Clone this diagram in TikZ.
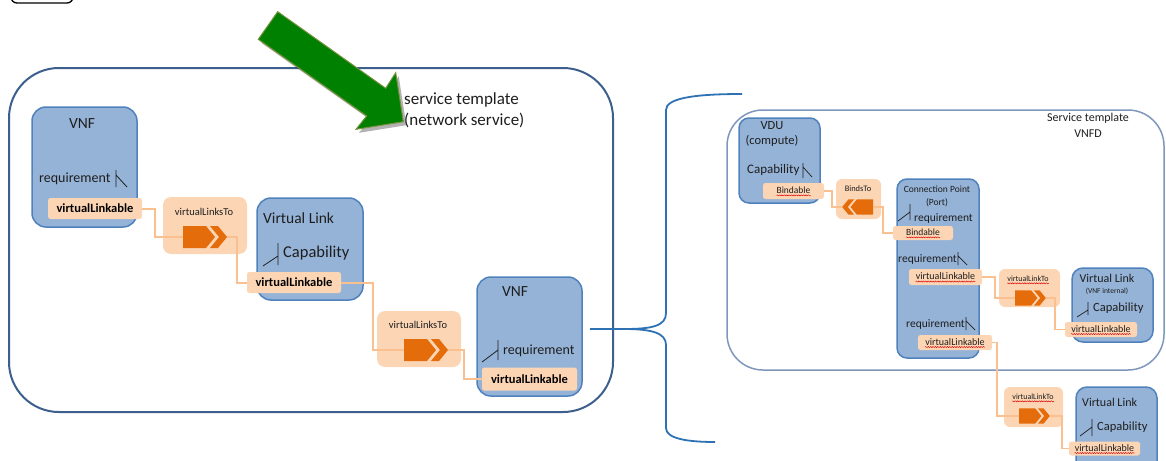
\documentclass[tikz,border=0pt]{standalone}
\usepackage{fontspec}
\setmainfont{Carlito}
\usetikzlibrary{decorations.pathmorphing}

\definecolor{boxfill}{HTML}{95B3D7}
\definecolor{boxedge}{HTML}{4F81BD}
\definecolor{peach}{HTML}{FCD5B5}
\definecolor{wirec}{HTML}{FAC090}
\definecolor{iconc}{HTML}{E46C0A}
\definecolor{frameLc}{HTML}{3C5F8E}
\definecolor{frameRc}{HTML}{7F97BD}
\definecolor{bracec}{HTML}{2E72B4}
\definecolor{arrowg}{HTML}{008000}
\definecolor{arrowedge}{HTML}{76923C}
\definecolor{ink}{HTML}{1E1E1E}

\newcommand{\fz}[2]{\fontsize{#1}{#2}\selectfont}

\tikzset{
  bluebox/.style={draw=boxedge, fill=boxfill, line width=1.5pt, rounded corners=#1, inner sep=0},
  bluebox/.default=14pt,
  linkbox/.style={fill=peach, rounded corners=#1, inner sep=0},
  linkbox/.default=8pt,
  lbl/.style={fill=peach, rounded corners=2.5pt, inner sep=0},
  txt/.style={inner sep=0, text=ink},
  wire/.style={draw=wirec, line width=2pt},
  sym/.style={draw=ink, line width=0.8pt},
  bracepen/.style={draw=bracec, line width=1.8pt},
  spell/.style={draw=red!85!black, line width=0.45pt, decorate,
                decoration={snake, amplitude=0.55pt, segment length=2.4pt}},
  fwdicon/.pic={
    \fill[iconc] (0,-11) -- (23,-11) -- (32,0) -- (23,11) -- (0,11) -- cycle;
    \fill[iconc] (27,-11) -- (35,-11) -- (44,0) -- (35,11) -- (27,11) -- (36,0) -- cycle;
    \coordinate (-a) at (0,0);
    \coordinate (-b) at (44,0);
  }
}

\begin{document}
\begin{tikzpicture}[x=1pt,y=-1pt]
\useasboundingbox (0,0) rectangle (1166,460);
\clip (0,0) rectangle (1166,460);

% small tab in the top-left corner
\node[draw=black, line width=1.3pt, rounded corners=6pt, minimum width=62, minimum height=16, inner sep=0] (tab) at (42,-5) {};

% ---------------- network service template ----------------
\node[draw=frameLc, line width=2pt, rounded corners=50pt, minimum width=604, minimum height=344, inner sep=0] (nsframe) at (311,240) {};

% green pointer arrow with its shadow
\fill[black, opacity=0.3] (280.7,15.2) -- (388.7,91.8) -- (398.7,76.2) -- (406.3,125.2) -- (359,132.8) -- (369.7,119.5) -- (261.3,42.8) -- cycle;
\filldraw[fill=arrowg, draw=arrowedge, line width=1pt] (277.7,11.7) -- (385.7,88.3) -- (395.7,72.7) -- (403.3,121.7) -- (356,129.3) -- (366.7,116) -- (258.3,39.3) -- cycle;

\node[txt, anchor=west, align=left, font=\fz{17}{21}] (nstitle) at (404,110) {service template\\(network service)};

% VNF (left)
\node[bluebox, minimum width=105, minimum height=120] (vnfA) at (84.5,167) {};
\node[txt, font=\fz{15.5}{18}] (vnfAt) at (82,124) {VNF};
\node[txt, anchor=west, font=\fz{14}{16}] (reqA) at (39,179) {requirement};
\draw[sym] (116,170) -- (116,187) (116,175) -- (127,187);
\node[lbl, minimum width=94, minimum height=21, font=\bfseries\fz{12.5}{15}] (vl1) at (95,208.5) {virtualLinkable};

% virtual link
\node[bluebox, minimum width=106, minimum height=102] (vlA) at (310,249) {};
\node[txt, anchor=west, font=\fz{15.5}{18}] (vlAt) at (263,218) {Virtual Link};
\draw[sym] (278,243) -- (278,265) (263,266) -- (278,256);
\node[txt, anchor=west, font=\fz{16.5}{19}] (capA) at (283,253) {Capability};
\node[lbl, minimum width=94, minimum height=21, font=\bfseries\fz{12.5}{15}] (vl2) at (294,282.5) {virtualLinkable};

% VNF (right)
\node[bluebox, minimum width=105, minimum height=119] (vnfB) at (529.5,336.5) {};
\node[txt, font=\fz{15.5}{18}] (vnfBt) at (515,292) {VNF};
\draw[sym] (498,340) -- (498,360) (482,362) -- (498,350);
\node[txt, anchor=west, font=\fz{14}{16}] (reqB) at (503,351) {requirement};
\node[lbl, minimum width=95, minimum height=23, font=\bfseries\fz{12.5}{15}] (vl3) at (529.5,379) {virtualLinkable};

% relationship boxes
\node[linkbox, minimum width=84, minimum height=57] (lt1) at (205,225.5) {};
\node[txt, font=\fz{10.5}{12}] (lt1t) at (204,212) {virtualLinksTo};
\node[linkbox, minimum width=84, minimum height=56] (lt2) at (419,339) {};
\node[txt, font=\fz{10.5}{12}] (lt2t) at (418,325) {virtualLinksTo};

\pic (ic1) at (183,237) {fwdicon};
\pic (ic2) at (404,350) {fwdicon};

% wires
\draw[wire] (vl1.east) -- ++(13,0) |- (ic1-a);
\draw[wire] (ic1-b) -- ++(10,0) |- (vl2.west);
\draw[wire] (vl2.east) -- ++(32,0) |- (ic2-a);
\draw[wire] (ic2-b) -- ++(16,0) |- (vl3.west);

% ---------------- brace ----------------
\coordinate (brtail) at (590,329);
\coordinate (brtip) at (624,329);
\draw[bracepen] (brtail) -- (brtip);
\draw[bracepen] (brtip) .. controls (652,329) and (666,326) .. (666,313) -- (666,110) .. controls (666,99) and (690,94) .. (742,94);
\draw[bracepen] (brtip) .. controls (652,329) and (666,333) .. (666,345) -- (666,428) .. controls (666,438) and (685,442) .. (715,442);

% ---------------- VNFD service template ----------------
\node[draw=frameRc, line width=1.5pt, rounded corners=36pt, minimum width=437, minimum height=260, inner sep=0] (vnfdframe) at (945.5,240) {};
\node[txt, align=center, font=\fz{12}{16}] (vnfdtitle) at (1088,125) {Service template\\VNFD};

% VDU
\node[bluebox=10pt, minimum width=81, minimum height=85] (vdu) at (779.5,160.5) {};
\node[txt, align=center, font=\fz{12.5}{15}] (vdut) at (772,133.5) {VDU\\(compute)};
\node[txt, anchor=west, font=\fz{13}{15}] (capV) at (747,170) {Capability};
\draw[sym, line width=0.7pt] (803,163) -- (803,178) (803,167) -- (812,177);
\node[lbl, minimum width=61, minimum height=16] (bnd1) at (793.5,191) {};
\node[txt, font=\fz{9.5}{11}] (bnd1t) at (793.5,190.5) {Bindable};

% connection point
\node[bluebox=10pt, minimum width=82, minimum height=179] (cp) at (938,268.5) {};
\node[txt, align=center, font=\fz{9.5}{13}] (cpt) at (937,196.5) {Connection Point\\(Port)};
\draw[sym, line width=0.7pt] (910,204) -- (910,220) (898,221) -- (910,212);
\node[txt, anchor=west, font=\fz{11.5}{13}] (reqC1) at (914,218) {requirement};
\node[lbl, minimum width=60, minimum height=14] (bnd2) at (923,233) {};
\node[txt, font=\fz{9.5}{11}] (bnd2t) at (923,232.5) {Bindable};
\node[txt, anchor=west, font=\fz{11.5}{13}] (reqC2) at (898,259) {requirement};
\draw[sym, line width=0.7pt] (958,252) -- (958,265) (958,256) -- (967,265);
\node[lbl, minimum width=73, minimum height=16] (vl4) at (945.5,277) {};
\node[txt, font=\fz{10}{12}] (vl4t) at (945.5,276.5) {virtualLinkable};
\node[txt, anchor=west, font=\fz{11.5}{13}] (reqC3) at (906,324) {requirement};
\draw[sym, line width=0.7pt] (966,317) -- (966,330) (966,321) -- (975,330);
\node[lbl, minimum width=74, minimum height=15] (vl5) at (955,342.5) {};
\node[txt, font=\fz{10}{12}] (vl5t) at (955,342) {virtualLinkable};

% virtual link (VNF internal)
\node[bluebox=11pt, minimum width=81, minimum height=74] (vli) at (1112.5,305) {};
\node[txt, font=\fz{12}{14}] (vlit) at (1107,278) {Virtual Link};
\node[txt, font=\fz{7.5}{9}] (vlisub) at (1107,291) {(VNF internal)};
\draw[sym, line width=0.7pt] (1088,302) -- (1088,315) (1077,317) -- (1088,310);
\node[txt, anchor=west, font=\fz{12.5}{15}] (capI) at (1093,308) {Capability};
\node[lbl, minimum width=72, minimum height=15] (vl6) at (1101,329.5) {};
\node[txt, font=\fz{10}{12}] (vl6t) at (1101,329) {virtualLinkable};

% virtual link (external)
\node[bluebox=11pt, minimum width=81, minimum height=88] (vlb) at (1116.5,431) {};
\node[txt, anchor=west, font=\fz{12}{14}] (vlbt) at (1082,402) {Virtual Link};
\draw[sym, line width=0.7pt] (1092,419) -- (1092,436) (1080,436) -- (1092,427);
\node[txt, anchor=west, font=\fz{12.5}{15}] (capB) at (1097,427) {Capability};
\node[lbl, minimum width=71, minimum height=14] (vl7) at (1104.5,448.5) {};
\node[txt, font=\fz{10}{12}] (vl7t) at (1104.5,448) {virtualLinkable};

% relationship boxes
\node[linkbox=6pt, minimum width=45, minimum height=40] (bto) at (858.5,199) {};
\node[txt, font=\fz{8.4}{10}] (btot) at (858,189) {BindsTo};
\node[linkbox=6pt, minimum width=61, minimum height=38] (vlt1) at (1029.5,288) {};
\node[txt, font=\fz{8}{10}] (vlt1t) at (1028,279) {virtualLinkTo};
\node[linkbox=6pt, minimum width=59, minimum height=40] (vlt2) at (1033.5,407) {};
\node[txt, font=\fz{8}{10}] (vlt2t) at (1033,397) {virtualLinkTo};

\pic[xscale=-0.7, yscale=0.7] (bicon) at (873,207) {fwdicon};
\pic[scale=0.7] (ic3) at (1015,298) {fwdicon};
\pic[scale=0.7] (ic4) at (1019,416) {fwdicon};

% wires
\draw[wire, line width=1.6pt] (bnd1.east) -- ++(8,0) |- (bicon-b);
\draw[wire, line width=1.6pt] (bicon-a) -- ++(10,0) |- (bnd2.west);
\draw[wire, line width=1.6pt] (vl4.east) -- ++(13,0) |- (ic3-a);
\draw[wire, line width=1.6pt] (ic3-b) -- ++(9,0) |- (vl6.west);
\draw[wire, line width=1.6pt] (vl5.east) -- ++(5,0) |- (ic4-a);
\draw[wire, line width=1.6pt] (ic4-b) -- ++(12,0) |- (vl7.west);

% spelling marks under the underlined words
\foreach \t in {bnd1t, bnd2t, vl4t, vl5t, vl6t, vl7t, vlt1t, vlt2t}
  \draw[spell] ([yshift=-1.6pt]\t.base west) -- ([yshift=-1.6pt]\t.base east);
\end{tikzpicture}
\end{document}
